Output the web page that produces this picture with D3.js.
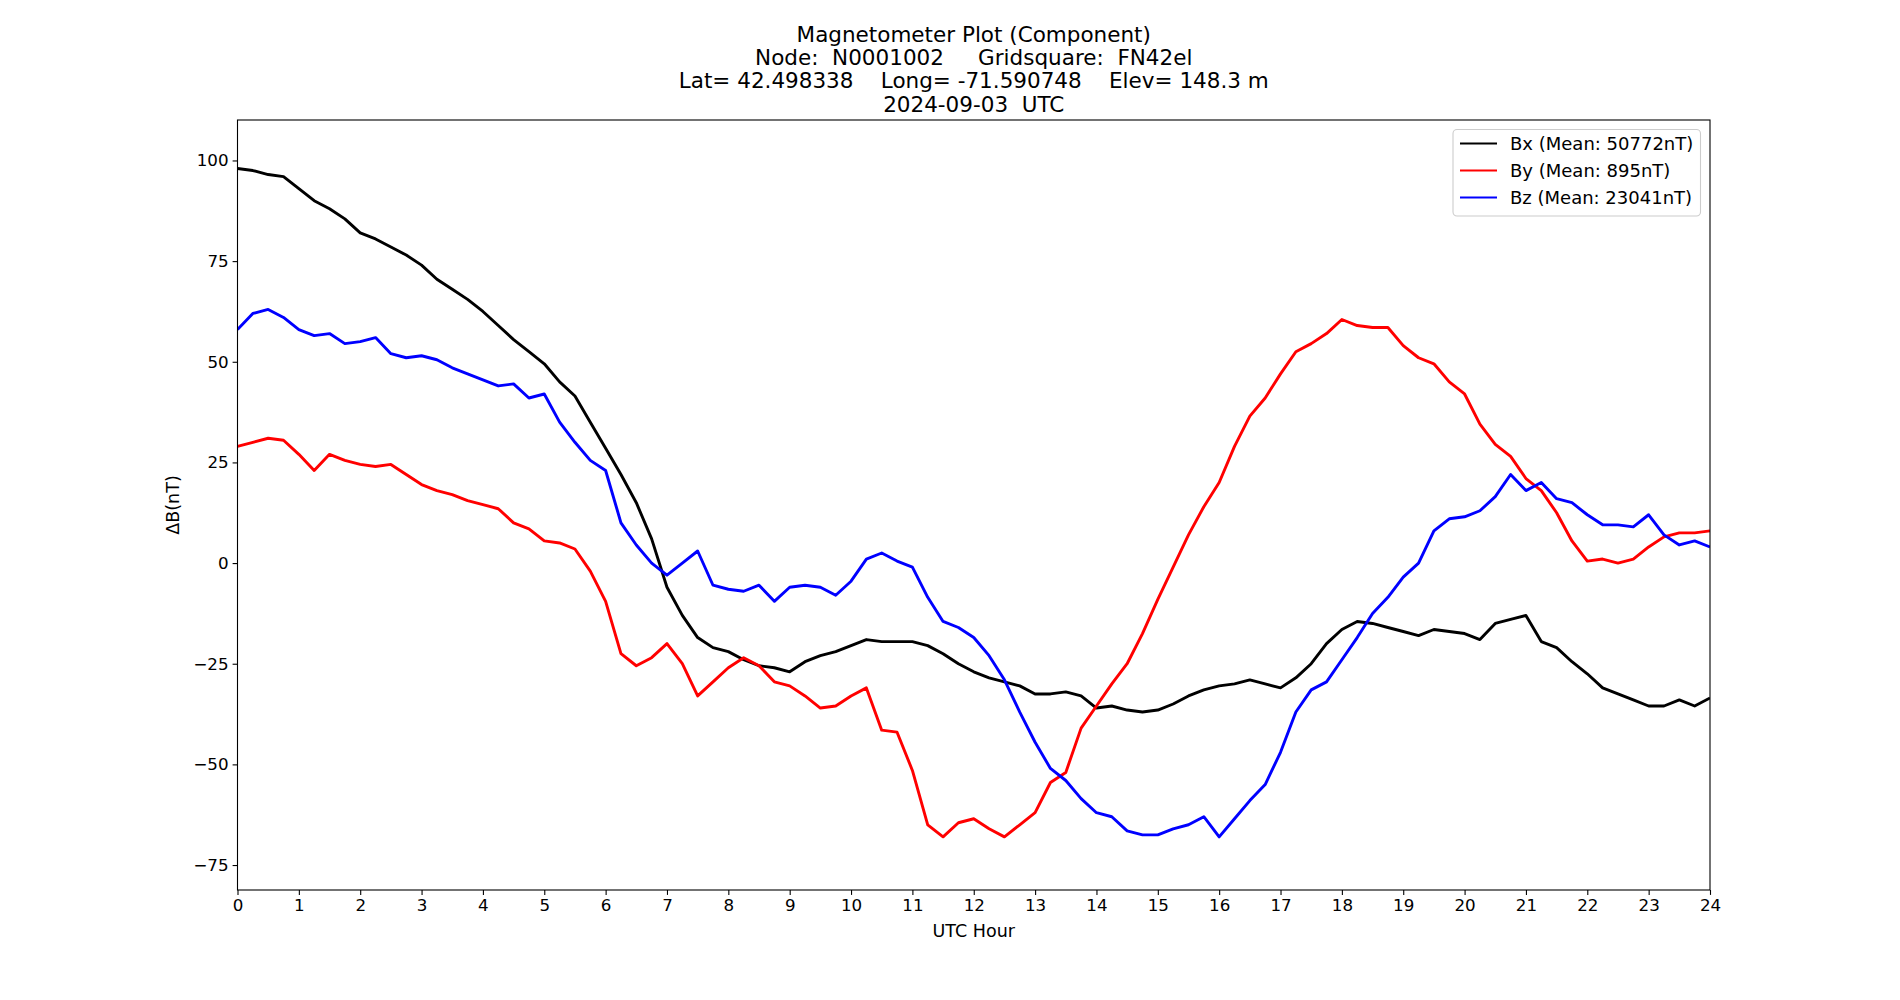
<!DOCTYPE html>
<html>
<head>
<meta charset="utf-8">
<script src="https://cdn.jsdelivr.net/npm/d3@7"></script>
<style>
  html, body { margin: 0; padding: 0; background: #fff; }
  svg { display: block; font-family: "DejaVu Sans", sans-serif; }
</style>
</head>
<body>
<svg id="chart" width="1900" height="1000"></svg>
<script>
// ---- Data (0.25 h steps) ----
const hours = d3.range(0, 24.0001, 0.25);
const xTicks = d3.range(0, 25, 1);
const yTicks = [-75, -50, -25, 0, 25, 50, 75, 100];
const seriesNames = ["Bx (Mean: 50772nT)", "By (Mean: 895nT)", "Bz (Mean: 23041nT)"];
const seriesColors = ["black", "red", "blue"];
const titleLines = [
  "Magnetometer Plot (Component)",
  "Node:  N0001002     Gridsquare:  FN42el",
  "Lat= 42.498338    Long= -71.590748    Elev= 148.3 m",
  "2024-09-03  UTC"
];

const bx = [98, 97.5, 96.5, 96, 93, 90, 88, 85.5, 82, 80.5, 78.5, 76.5, 74, 70.5, 68, 65.5,
  62.5, 59, 55.5, 52.5, 49.5, 45, 41.5, 35, 28.5, 22, 15, 6, -6, -13, -18.5, -21,
  -22, -24, -25.5, -26, -27, -24.5, -23, -22, -20.5, -19, -19.5, -19.5, -19.5, -20.5, -22.5, -25,
  -27, -28.5, -29.5, -30.5, -32.5, -32.5, -32, -33, -36, -35.5, -36.5, -37, -36.5, -35, -33, -31.5,
  -30.5, -30, -29, -30, -31, -28.5, -25, -20, -16.5, -14.5, -15, -16, -17, -18, -16.5, -17,
  -17.5, -19, -15, -14, -13, -19.5, -21, -24.5, -27.5, -31, -32.5, -34, -35.5, -35.5, -34, -35.5,
  -33.5];

const by = [29, 30, 31, 30.5, 27, 23, 27, 25.5, 24.5, 24, 24.5, 22, 19.5, 18, 17, 15.5,
  14.5, 13.5, 10, 8.5, 5.5, 5, 3.5, -2, -9.5, -22.5, -25.5, -23.5, -20, -25, -33, -29.5,
  -26, -23.5, -25.5, -29.5, -30.5, -33, -36, -35.5, -33, -31, -41.5, -42, -51.5, -65, -68, -64.5,
  -63.5, -66, -68, -65, -62, -54.5, -52, -41, -35.5, -30, -25, -17.5, -9, -1, 7, 14,
  20, 29, 36.5, 41, 47, 52.5, 54.5, 57, 60.5, 59, 58.5, 58.5, 54, 51, 49.5, 45,
  42, 34.5, 29.5, 26.5, 21, 18, 12.5, 5.5, 0.5, 1, 0, 1, 4, 6.5, 7.5, 7.5,
  8];

const bz = [58, 62, 63, 61, 58, 56.5, 57, 54.5, 55, 56, 52, 51, 51.5, 50.5, 48.5, 47,
  45.5, 44, 44.5, 41, 42, 35, 30, 25.5, 23, 10, 4.5, 0, -3, 0, 3, -5.5,
  -6.5, -7, -5.5, -9.5, -6, -5.5, -6, -8, -4.5, 1, 2.5, 0.5, -1, -8.5, -14.5, -16,
  -18.5, -23, -29, -37, -44.5, -51, -54, -58.5, -62, -63, -66.5, -67.5, -67.5, -66, -65, -63,
  -68, -63.5, -59, -55, -47, -37, -31.5, -29.5, -24, -18.5, -12.5, -8.5, -3.5, 0, 8, 11,
  11.5, 13, 16.5, 22, 18, 20, 16, 15, 12, 9.5, 9.5, 9, 12, 7, 4.5, 5.5,
  4];

const seriesValues = [bx, by, bz];

// ---- Layout ----
const W = 1900, H = 1000;
const margin = { left: 237.5, right: 190, top: 120, bottom: 110 };
const x0 = margin.left, x1 = W - margin.right, y0 = margin.top, y1 = H - margin.bottom;

const svg = d3.select("#chart");
const x = d3.scaleLinear().domain([0, 24]).range([x0, x1]);
const y = d3.scaleLinear().domain([-81.2, 110.05]).range([y1, y0]);

// clip
svg.append("defs").append("clipPath").attr("id", "clip")
  .append("rect").attr("x", x0).attr("y", y0).attr("width", x1 - x0).attr("height", y1 - y0);

// lines
const line = d3.line().x((d, i) => x(hours[i])).y(d => y(d));
const linesG = svg.append("g").attr("clip-path", "url(#clip)");
seriesValues.forEach((vals, k) => {
  linesG.append("path")
    .attr("d", line(vals))
    .attr("fill", "none")
    .attr("stroke", seriesColors[k])
    .attr("stroke-width", 2.9)
    .attr("stroke-linejoin", "round");
});

// axes
const fmt = d => (d < 0 ? "\u2212" + Math.abs(d) : String(d));
const xAxis = d3.axisBottom(x).tickValues(xTicks).tickSize(4.9).tickPadding(4).tickFormat(d => String(d));
const yAxis = d3.axisLeft(y).tickValues(yTicks).tickSize(4.9).tickPadding(4).tickFormat(fmt);

const gx = svg.append("g").attr("transform", `translate(0,${y1})`).call(xAxis);
const gy = svg.append("g").attr("transform", `translate(${x0},0)`).call(yAxis);
[gx, gy].forEach(g => {
  g.select(".domain").remove();
  g.selectAll(".tick line").attr("stroke", "black").attr("stroke-width", 1.1);
  g.selectAll(".tick text").attr("fill", "black").style("font-size", "16.7px")
    .style("font-family", "DejaVu Sans, sans-serif");
});

// frame
svg.append("rect").attr("x", x0).attr("y", y0).attr("width", x1 - x0).attr("height", y1 - y0)
  .attr("fill", "none").attr("stroke", "black").attr("stroke-width", 1.1);

// axis labels
svg.append("text").attr("x", (x0 + x1) / 2).attr("y", 937).attr("text-anchor", "middle")
  .style("font-size", "17.5px").text("UTC Hour");
svg.append("text").attr("transform", `translate(179,${(y0 + y1) / 2}) rotate(-90)`)
  .attr("text-anchor", "middle").style("font-size", "17.5px").text("\u0394B(nT)");

// title
const title = svg.append("text").attr("text-anchor", "middle").style("font-size", "21.5px");
titleLines.forEach((t, i) => {
  title.append("tspan").attr("x", (x0 + x1) / 2).attr("y", 42 + i * 23.2)
    .attr("xml:space", "preserve").style("white-space", "pre").text(t);
});

// legend
const lg = svg.append("g");
lg.append("rect").attr("x", 1453).attr("y", 129.5).attr("width", 247.5).attr("height", 86.5)
  .attr("rx", 4).attr("fill", "white").attr("fill-opacity", 0.8)
  .attr("stroke", "#cccccc").attr("stroke-width", 1.1);
seriesNames.forEach((name, k) => {
  const cy = 143.5 + k * 27;
  lg.append("line").attr("x1", 1460).attr("x2", 1497).attr("y1", cy).attr("y2", cy)
    .attr("stroke", seriesColors[k]).attr("stroke-width", 2.1);
  lg.append("text").attr("x", 1510).attr("y", cy + 6.3).style("font-size", "18px").text(name);
});
</script>
</body>
</html>
